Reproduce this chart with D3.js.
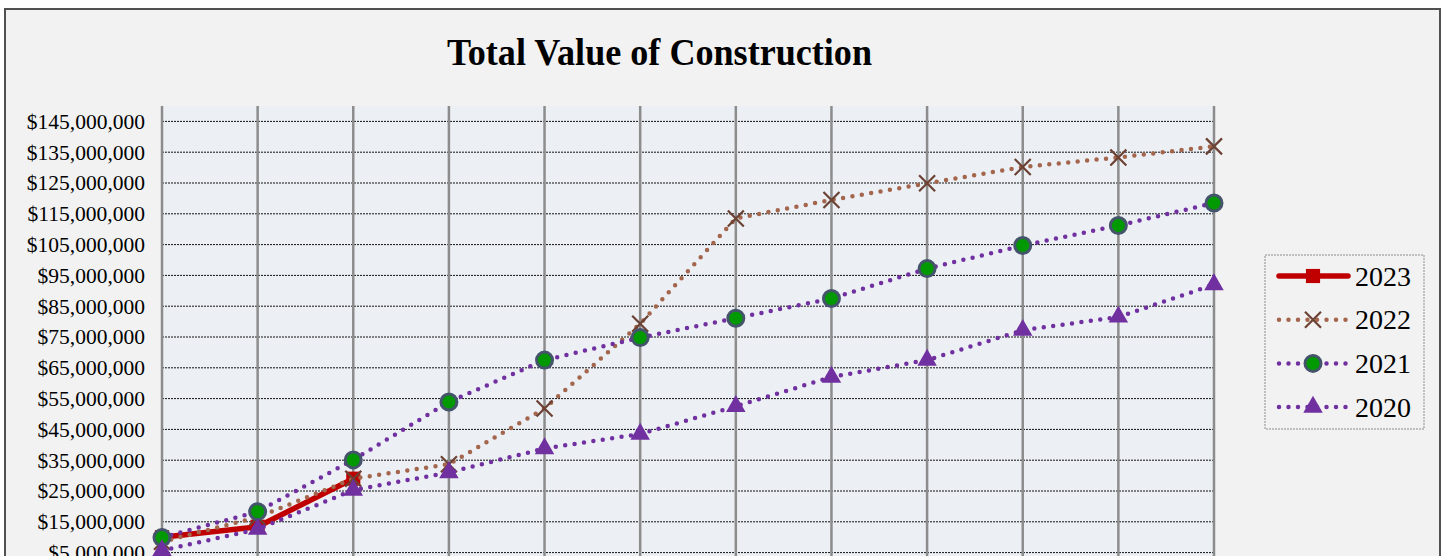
<!DOCTYPE html>
<html>
<head>
<meta charset="utf-8">
<script src="https://cdn.jsdelivr.net/npm/d3@7"></script>
<style>
    body { margin: 0; background: #ffffff; }
    #chart { width: 1445px; height: 556px; }
    .tick text { font-family: "Liberation Serif", serif; }
</style>
</head>
<body>
<div id="chart"></div>
<script>
//data
const months = ["Jan","Feb","Mar","Apr","May","Jun","Jul","Aug","Sep","Oct","Nov","Dec"];
const v2023 = [10000000, 13400000, 29000000];
const v2022 = [8500000, 16500000, 29000000, 33700000, 51800000, 79300000, 113500000, 119500000, 124900000, 130200000, 133300000, 136900000];
const v2021 = [9900000, 18300000, 35100000, 53900000, 67500000, 74800000, 81100000, 87500000, 97200000, 104700000, 111200000, 118500000];
const v2020 = [5700000, 12600000, 25300000, 31000000, 38800000, 43500000, 52500000, 62000000, 67500000, 77200000, 81500000, 92000000];
const yTicks = [5000000, 15000000, 25000000, 35000000, 45000000, 55000000, 65000000, 75000000, 85000000, 95000000, 105000000, 115000000, 125000000, 135000000, 145000000];

const series = [
    {name: "2023", values: v2023, color: "#c00000", width: 5.5, dash: null, marker: "square"},
    {name: "2022", values: v2022, color: "#a3664d", width: 4.5, dash: "0,9.5", marker: "cross"},
    {name: "2021", values: v2021, color: "#7030a0", width: 4.5, dash: "0,9.5", marker: "circle"},
    {name: "2020", values: v2020, color: "#7030a0", width: 4.5, dash: "0,9.5", marker: "triangle"}
];

//dims
const width = 1445;
const height = 556;
const svg = d3.select("#chart")
    .append("svg")
    .attr("width", width)
    .attr("height", height);

const margin = {top: 106, left: 162, right: 231, bottom: -12};

//chart background + border
svg.append("rect")
    .attr("x", 5)
    .attr("y", 9)
    .attr("width", 1435)
    .attr("height", 580)
    .attr("fill", "#f2f2f2")
    .attr("stroke", "#505050")
    .attr("stroke-width", 2);

//scales
const xScale = d3.scalePoint()
    .domain(months)
    .range([margin.left, width - margin.right])
    .padding(0);
const yScale = d3.scaleLinear()
    .domain([0, 150000000])
    .range([height - margin.bottom, margin.top]);

//plot area
svg.append("rect")
    .attr("x", margin.left)
    .attr("y", margin.top)
    .attr("width", (width - margin.right) - margin.left)
    .attr("height", (height - margin.bottom) - margin.top)
    .attr("fill", "#ecf0f4");

//horizontal grid
svg.append("g")
    .selectAll("line")
    .data(yTicks)
    .enter()
    .append("line")
        .attr("x1", margin.left)
        .attr("x2", width - margin.right)
        .attr("y1", d => yScale(d))
        .attr("y2", d => yScale(d))
        .attr("stroke", "#111")
        .attr("stroke-width", 1)
        .attr("stroke-dasharray", "2,1");

//vertical grid (one per month)
svg.append("g")
    .selectAll("line")
    .data(months)
    .enter()
    .append("line")
        .attr("x1", d => xScale(d))
        .attr("x2", d => xScale(d))
        .attr("y1", margin.top)
        .attr("y2", height - margin.bottom)
        .attr("stroke", "#8c8c8c")
        .attr("stroke-width", 2.5);

//y axis
const yAxis = svg.append("g")
    .attr("transform", `translate(${margin.left},0)`)
    .call(d3.axisLeft(yScale)
        .tickValues(yTicks)
        .tickSize(0)
        .tickPadding(17)
        .tickFormat(d => "$" + d3.format(",")(d)));
yAxis.select(".domain").remove();
yAxis.selectAll("text")
    .attr("font-size", 21.5)
    .attr("fill", "#000");

//marker drawing
function drawMarker(g, type, color) {
    if (type === "square") {
        g.append("path")
            .attr("d", d3.symbol(d3.symbolSquare, 200)())
            .attr("fill", "#c00000");
    } else if (type === "cross") {
        g.append("path")
            .attr("d", "M-8,-8L8,8M-8,8L8,-8")
            .attr("stroke", "#6b4133")
            .attr("stroke-width", 2.2)
            .attr("fill", "none");
    } else if (type === "circle") {
        g.append("circle")
            .attr("r", 8)
            .attr("fill", "#009a00")
            .attr("stroke", "#44546a")
            .attr("stroke-width", 3);
    } else if (type === "triangle") {
        g.append("path")
            .attr("d", d3.symbol(d3.symbolTriangle, 165)())
            .attr("fill", color);
    }
}

//lines + markers
const line = d3.line()
    .x((d, i) => xScale(months[i]))
    .y(d => yScale(d));

series.forEach(function(s) {
    svg.append("path")
        .datum(s.values)
        .attr("d", line)
        .attr("fill", "none")
        .attr("stroke", s.color)
        .attr("stroke-width", s.width)
        .attr("stroke-linecap", "round")
        .attr("stroke-linejoin", "round")
        .attr("stroke-dasharray", s.dash);

    svg.append("g")
        .selectAll("g")
        .data(s.values)
        .enter()
        .append("g")
            .attr("transform", (d, i) => `translate(${xScale(months[i])},${yScale(d)})`)
            .each(function() { drawMarker(d3.select(this), s.marker, s.color); });
});

//title
svg.append("text")
    .attr("x", 659.5)
    .attr("y", 65)
    .attr("text-anchor", "middle")
    .attr("font-family", "Liberation Serif, serif")
    .attr("font-weight", "bold")
    .attr("font-size", 38)
    .attr("textLength", 425)
    .attr("lengthAdjust", "spacingAndGlyphs")
    .text("Total Value of Construction");

//legend
const legend = svg.append("g");
legend.append("rect")
    .attr("x", 1265)
    .attr("y", 255)
    .attr("width", 159)
    .attr("height", 174)
    .attr("fill", "none")
    .attr("stroke", "#8c8c8c")
    .attr("stroke-width", 1)
    .attr("stroke-dasharray", "2,1");

const items = legend.selectAll(".item")
    .data(series)
    .enter()
    .append("g")
        .attr("class", "item")
        .attr("transform", (d, i) => `translate(0,${276 + i * 43.7})`);

items.append("line")
    .attr("x1", 1279)
    .attr("x2", 1348)
    .attr("stroke", d => d.color)
    .attr("stroke-width", d => d.width)
    .attr("stroke-linecap", "round")
    .attr("stroke-dasharray", d => d.dash);

items.append("g")
    .attr("transform", "translate(1313,0)")
    .each(function(d) { drawMarker(d3.select(this), d.marker, d.color); });

items.append("text")
    .attr("x", 1355)
    .attr("y", 9.5)
    .attr("font-family", "Liberation Serif, serif")
    .attr("font-size", 28)
    .attr("fill", "#000")
    .text(d => d.name);
</script>
</body>
</html>
